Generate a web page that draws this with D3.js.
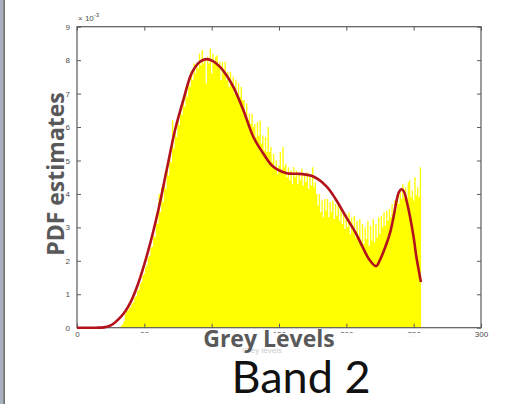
<!DOCTYPE html>
<html>
<head>
<meta charset="utf-8">
<script src="https://cdn.jsdelivr.net/npm/d3@7"></script>
<style>
html,body{margin:0;padding:0;background:#fff;}
svg{display:block;}
</style>
</head>
<body>
<svg id="chart" width="512" height="404"></svg>
<script>
// ---- data ----
const histStart = 32; // first grey level with a bar
const histValues = [
0.03,0.06,0.1,0.2,0.4,0.5,0.52,0.6,
0.62,0.72,0.76,0.9,0.95,1.1,1.14,1.3,
1.37,1.55,1.62,1.8,1.88,2.1,2.15,2.4,
2.42,2.75,2.7,3.4,3.1,4.0,3.45,4.2,
3.75,4.3,4.15,4.9,4.55,5.3,4.95,6.2,
5.35,5.8,5.7,6.3,6.05,6.6,6.35,6.9,
6.6,7.2,6.9,7.3,7.2,7.7,7.4,7.9,
7.6,7.9,7.75,8.2,7.85,8.3,7.9,8.05,
7.3,8.1,7.9,8.35,7.6,8.2,7.9,8.1,
8.15,7.8,7.95,7.4,7.95,7.6,7.95,7.4,
7.65,7.2,7.65,7.3,7.5,7.0,7.4,7.0,
7.3,6.9,7.2,6.8,6.8,6.3,6.7,6.2,
6.4,6.1,6.4,6.0,6.1,5.7,6.15,5.75,
6.2,5.5,5.75,5.3,5.7,5.25,6.0,5.25,
5.4,4.95,5.2,4.75,5.0,4.6,4.85,5.25,
4.7,5.4,4.8,4.9,4.5,4.8,4.4,4.7,
4.3,4.8,4.5,4.7,4.3,4.6,4.4,4.75,
4.25,4.55,4.35,4.65,4.15,4.55,4.25,4.8,
4.2,4.35,4.0,3.65,4.0,3.45,3.8,3.3,
3.85,3.5,3.85,3.3,3.75,3.45,3.8,3.25,
3.7,3.35,3.65,3.2,3.55,3.1,3.5,2.95,
3.4,3.0,3.45,2.8,3.3,2.9,3.35,2.7,
3.2,2.75,3.25,2.6,3.1,2.5,3.0,2.65,
3.2,2.45,3.05,2.6,3.25,2.55,3.1,2.7,
3.3,2.8,3.35,3.0,3.45,3.05,3.5,3.2,
3.55,3.3,3.7,3.4,3.8,3.55,4.0,3.7,
4.1,3.85,4.3,3.9,4.2,3.85,4.35,4.4,
3.9,4.1,3.8,4.5,3.95,4.2,3.9,4.8
];
const pdfX = [0,8,14,20,24,28,32,36,40,45.5,53,60.4,66.6,72.8,78.9,85.2,91.3,96.3,101,106.2,111,116.1,123.5,130.9,138.3,145.8,155.7,165.6,175.5,185.4,192,200,207,212,217,222,225,229,232.4,235,237.4,239,241,243,245,247.3,250,252,255.4];
const pdfY = [0,0,0,0.01,0.05,0.15,0.3,0.5,0.78,1.33,2.32,3.52,4.72,5.91,6.8,7.61,7.95,8.03,7.97,7.8,7.55,7.2,6.51,5.71,5.21,4.81,4.62,4.6,4.52,4.22,3.85,3.3,2.83,2.42,2.04,1.84,2.03,2.42,2.83,3.3,3.82,4.05,4.14,4.05,3.75,3.32,2.7,2.12,1.37];
const xTicks = [0,50,100,150,200,250,300];
const yTicks = [0,1,2,3,4,5,6,7,8,9];

// ---- layout ----
const svg = d3.select("#chart");
const L = 77, R = 481, T = 26.7, B = 327.7;
const x = d3.scaleLinear().domain([0,300]).range([L,R]);
const y = d3.scaleLinear().domain([0,9]).range([B,T]);
const axisCol = "#5a5a5a";

// left slide border
svg.append("rect").attr("x",0).attr("y",0).attr("width",3.3).attr("height",404).attr("fill","#a9b1c0");
svg.append("rect").attr("x",3.3).attr("y",0).attr("width",1.6).attr("height",404).attr("fill","#636363");

// histogram as stepped area (one bar per grey level)
const histPts = histValues.map((d,i)=>[histStart+i-0.5,d]);
histPts.push([histStart+histValues.length-0.5, histValues[histValues.length-1]]);
const area = d3.area().x(d=>x(d[0])).y0(y(0)).y1(d=>y(d[1])).curve(d3.curveStepAfter);
svg.append("path").datum(histPts).attr("d",area).attr("fill","#ffff00");

// box
svg.append("rect").attr("x",L).attr("y",T).attr("width",R-L).attr("height",B-T)
  .attr("fill","none").attr("stroke",axisCol).attr("stroke-width",1.2);

// axes (ticks inward)
const fontTick = "8px 'Liberation Sans', Arial, sans-serif";
const gxb = svg.append("g").attr("transform",`translate(0,${B})`)
  .call(d3.axisBottom(x).tickValues(xTicks).tickSize(-4).tickPadding(7).tickFormat(d3.format("d")));
const gxt = svg.append("g").attr("transform",`translate(0,${T})`)
  .call(d3.axisTop(x).tickValues(xTicks).tickSize(-4).tickFormat(""));
const gyl = svg.append("g").attr("transform",`translate(${L},0)`)
  .call(d3.axisLeft(y).tickValues(yTicks).tickSize(-4).tickPadding(7).tickFormat(d3.format("d")));
const gyr = svg.append("g").attr("transform",`translate(${R},0)`)
  .call(d3.axisRight(y).tickValues(yTicks).tickSize(-4).tickFormat(""));
[gxb,gxt,gyl,gyr].forEach(g=>{
  g.select(".domain").remove();
  g.selectAll(".tick line").attr("stroke",axisCol).attr("stroke-width",1);
  g.selectAll(".tick text").attr("fill","#4a4a4a").style("font",fontTick);
});
gxb.selectAll(".tick text").attr("dy","0.3em");

// exponent label
const ex = svg.append("text").attr("x",x(0)+1).attr("y",21).attr("fill","#4a4a4a").style("font",fontTick);
ex.append("tspan").text("× 10");
ex.append("tspan").attr("dy",-4).style("font-size","6px").text("-3");

// pdf curve
const line = d3.line().x(d=>x(d[0])).y(d=>y(d[1])).curve(d3.curveCatmullRom.alpha(0.5));
svg.append("path").datum(pdfX.map((v,i)=>[v,pdfY[i]]))
  .attr("d",line).attr("fill","none").attr("stroke","#b3121c").attr("stroke-width",2.6)
  .attr("stroke-linejoin","round");

// overlay white box hiding lower part of x labels
svg.append("rect").attr("x",128).attr("y",333).attr("width",312).attr("height",30).attr("fill","#fff").attr("opacity",0.95);
svg.append("text").attr("x",262).attr("y",353).attr("text-anchor","middle")
  .attr("fill","#cccccc").style("font","8px 'Liberation Sans', Arial, sans-serif").text("Grey levels");

// slide titles
svg.append("text").attr("x",269).attr("y",347).attr("text-anchor","middle")
  .attr("fill","#595959").style("font","700 23px 'Open Sans', sans-serif").text("Grey Levels");
svg.append("text").attr("transform","translate(63.5,174) rotate(-90)").attr("text-anchor","middle")
  .attr("fill","#595959").style("font","700 23px 'Open Sans', sans-serif").text("PDF estimates");
svg.append("text").attr("x",301).attr("y",393).attr("text-anchor","middle")
  .attr("fill","#111").style("font","400 45px Lato, 'Open Sans', sans-serif").text("Band 2");
</script>
</body>
</html>
